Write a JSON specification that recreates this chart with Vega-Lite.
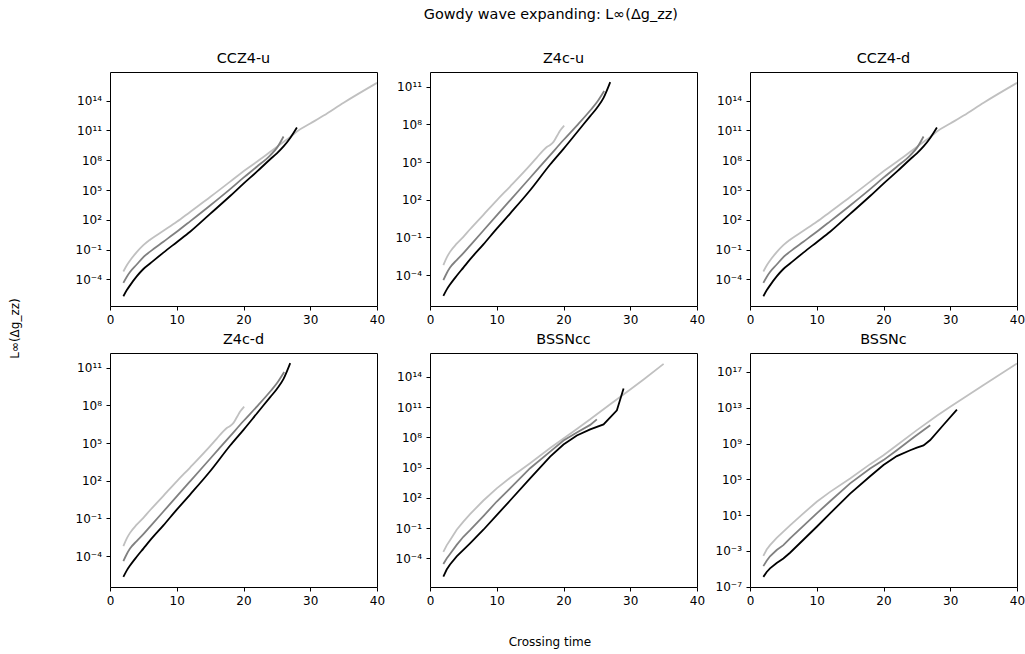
{
  "$schema": "https://vega.github.io/schema/vega-lite/v6.json",
  "padding": {"left": 8, "top": 6, "right": 5, "bottom": 8},
  "background": "white",
  "title": {"text": "Gowdy wave expanding: L∞(Δg_zz)", "anchor": "middle", "fontSize": 14.4, "fontWeight": "normal", "font": "DejaVu Sans", "color": "black", "offset": 28, "dx": 34},
  "datasets": {
    "ccz4u": [
      {"s": "low", "t": 2, "v": 6.31e-4}, {"s": "low", "t": 2.5, "v": 2.512e-3}, {"s": "low", "t": 3, "v": 7.943e-3}, {"s": "low", "t": 4, "v": 5.623e-2}, {"s": "low", "t": 5, "v": 0.2818}, {"s": "low", "t": 6, "v": 1}, {"s": "low", "t": 8, "v": 7.943}, {"s": "low", "t": 10, "v": 63.1}, {"s": "low", "t": 12, "v": 631}, {"s": "low", "t": 15, "v": 1.995e4}, {"s": "low", "t": 18, "v": 7.079e5}, {"s": "low", "t": 20, "v": 7.943e6}, {"s": "low", "t": 22, "v": 7.079e7}, {"s": "low", "t": 24, "v": 7.079e8}, {"s": "low", "t": 25, "v": 2.239e9}, {"s": "low", "t": 26, "v": 7.079e9}, {"s": "low", "t": 27, "v": 2.239e10}, {"s": "low", "t": 28, "v": 7.943e10}, {"s": "low", "t": 30, "v": 5.012e11}, {"s": "low", "t": 32, "v": 3.162e12}, {"s": "low", "t": 35, "v": 6.31e13}, {"s": "low", "t": 40, "v": 6.31e15},
      {"s": "mid", "t": 2, "v": 4.467e-5}, {"s": "mid", "t": 2.5, "v": 1.778e-4}, {"s": "mid", "t": 3, "v": 5.623e-4}, {"s": "mid", "t": 4, "v": 3.162e-3}, {"s": "mid", "t": 5, "v": 1.778e-2}, {"s": "mid", "t": 6, "v": 6.31e-2}, {"s": "mid", "t": 8, "v": 0.631}, {"s": "mid", "t": 10, "v": 6.31}, {"s": "mid", "t": 12, "v": 70.79}, {"s": "mid", "t": 15, "v": 2818}, {"s": "mid", "t": 18, "v": 1.259e5}, {"s": "mid", "t": 20, "v": 1.778e6}, {"s": "mid", "t": 22, "v": 2.239e7}, {"s": "mid", "t": 24, "v": 3.162e8}, {"s": "mid", "t": 25, "v": 1.778e9}, {"s": "mid", "t": 26, "v": 2.512e10},
      {"s": "high", "t": 2, "v": 1.995e-6}, {"s": "high", "t": 2.5, "v": 7.943e-6}, {"s": "high", "t": 3, "v": 2.512e-5}, {"s": "high", "t": 4, "v": 1.995e-4}, {"s": "high", "t": 5, "v": 1.122e-3}, {"s": "high", "t": 6, "v": 3.981e-3}, {"s": "high", "t": 8, "v": 5.012e-2}, {"s": "high", "t": 10, "v": 0.5623}, {"s": "high", "t": 12, "v": 6.31}, {"s": "high", "t": 15, "v": 398.1}, {"s": "high", "t": 18, "v": 2.512e4}, {"s": "high", "t": 20, "v": 4.467e5}, {"s": "high", "t": 22, "v": 7.079e6}, {"s": "high", "t": 24, "v": 1.259e8}, {"s": "high", "t": 25, "v": 5.012e8}, {"s": "high", "t": 26, "v": 2.512e9}, {"s": "high", "t": 27, "v": 1.778e10}, {"s": "high", "t": 28, "v": 1.995e11}
    ],
    "z4cu": [
      {"s": "low", "t": 2, "v": 6.31e-4}, {"s": "low", "t": 2.5, "v": 2.512e-3}, {"s": "low", "t": 3, "v": 7.079e-3}, {"s": "low", "t": 4, "v": 3.162e-2}, {"s": "low", "t": 5, "v": 0.1122}, {"s": "low", "t": 6, "v": 0.4467}, {"s": "low", "t": 8, "v": 6.31}, {"s": "low", "t": 10, "v": 89.13}, {"s": "low", "t": 12, "v": 1122}, {"s": "low", "t": 15, "v": 5.623e4}, {"s": "low", "t": 16, "v": 2.239e5}, {"s": "low", "t": 17, "v": 8.913e5}, {"s": "low", "t": 17.5, "v": 1.585e6}, {"s": "low", "t": 18, "v": 2.239e6}, {"s": "low", "t": 18.5, "v": 3.981e6}, {"s": "low", "t": 19, "v": 1.122e7}, {"s": "low", "t": 19.5, "v": 3.162e7}, {"s": "low", "t": 20.1, "v": 7.943e7},
      {"s": "mid", "t": 2, "v": 3.981e-5}, {"s": "mid", "t": 2.5, "v": 1.413e-4}, {"s": "mid", "t": 3, "v": 3.981e-4}, {"s": "mid", "t": 4, "v": 1.585e-3}, {"s": "mid", "t": 5, "v": 5.623e-3}, {"s": "mid", "t": 6, "v": 2.239e-2}, {"s": "mid", "t": 8, "v": 0.3548}, {"s": "mid", "t": 10, "v": 5.623}, {"s": "mid", "t": 12, "v": 89.13}, {"s": "mid", "t": 15, "v": 5623}, {"s": "mid", "t": 18, "v": 3.548e5}, {"s": "mid", "t": 20, "v": 5.623e6}, {"s": "mid", "t": 22, "v": 7.943e7}, {"s": "mid", "t": 24, "v": 1.259e9}, {"s": "mid", "t": 25, "v": 5.623e9}, {"s": "mid", "t": 26.1, "v": 4.467e10},
      {"s": "high", "t": 2, "v": 2.239e-6}, {"s": "high", "t": 2.5, "v": 7.079e-6}, {"s": "high", "t": 3, "v": 1.778e-5}, {"s": "high", "t": 4, "v": 8.913e-5}, {"s": "high", "t": 5, "v": 3.981e-4}, {"s": "high", "t": 6, "v": 1.778e-3}, {"s": "high", "t": 8, "v": 2.818e-2}, {"s": "high", "t": 10, "v": 0.5012}, {"s": "high", "t": 12, "v": 7.943}, {"s": "high", "t": 15, "v": 562.3}, {"s": "high", "t": 18, "v": 6.31e4}, {"s": "high", "t": 20, "v": 1.122e6}, {"s": "high", "t": 22, "v": 2.239e7}, {"s": "high", "t": 24, "v": 4.467e8}, {"s": "high", "t": 25, "v": 1.995e9}, {"s": "high", "t": 26, "v": 1.259e10}, {"s": "high", "t": 27, "v": 2.239e11}
    ],
    "ccz4d": [
      {"s": "low", "t": 2, "v": 6.31e-4}, {"s": "low", "t": 2.5, "v": 2.512e-3}, {"s": "low", "t": 3, "v": 7.943e-3}, {"s": "low", "t": 4, "v": 5.623e-2}, {"s": "low", "t": 5, "v": 0.2818}, {"s": "low", "t": 6, "v": 1}, {"s": "low", "t": 8, "v": 7.943}, {"s": "low", "t": 10, "v": 63.1}, {"s": "low", "t": 12, "v": 631}, {"s": "low", "t": 15, "v": 1.995e4}, {"s": "low", "t": 18, "v": 7.079e5}, {"s": "low", "t": 20, "v": 7.943e6}, {"s": "low", "t": 22, "v": 7.079e7}, {"s": "low", "t": 24, "v": 7.079e8}, {"s": "low", "t": 25, "v": 2.239e9}, {"s": "low", "t": 26, "v": 7.079e9}, {"s": "low", "t": 27, "v": 2.239e10}, {"s": "low", "t": 28, "v": 7.943e10}, {"s": "low", "t": 30, "v": 5.012e11}, {"s": "low", "t": 32, "v": 3.162e12}, {"s": "low", "t": 35, "v": 6.31e13}, {"s": "low", "t": 40, "v": 6.31e15},
      {"s": "mid", "t": 2, "v": 4.467e-5}, {"s": "mid", "t": 2.5, "v": 1.778e-4}, {"s": "mid", "t": 3, "v": 5.623e-4}, {"s": "mid", "t": 4, "v": 3.162e-3}, {"s": "mid", "t": 5, "v": 1.778e-2}, {"s": "mid", "t": 6, "v": 6.31e-2}, {"s": "mid", "t": 8, "v": 0.631}, {"s": "mid", "t": 10, "v": 6.31}, {"s": "mid", "t": 12, "v": 70.79}, {"s": "mid", "t": 15, "v": 2818}, {"s": "mid", "t": 18, "v": 1.259e5}, {"s": "mid", "t": 20, "v": 1.778e6}, {"s": "mid", "t": 22, "v": 2.239e7}, {"s": "mid", "t": 24, "v": 3.162e8}, {"s": "mid", "t": 25, "v": 1.778e9}, {"s": "mid", "t": 26, "v": 2.512e10},
      {"s": "high", "t": 2, "v": 1.995e-6}, {"s": "high", "t": 2.5, "v": 7.943e-6}, {"s": "high", "t": 3, "v": 2.512e-5}, {"s": "high", "t": 4, "v": 1.995e-4}, {"s": "high", "t": 5, "v": 1.122e-3}, {"s": "high", "t": 6, "v": 3.981e-3}, {"s": "high", "t": 8, "v": 5.012e-2}, {"s": "high", "t": 10, "v": 0.5623}, {"s": "high", "t": 12, "v": 6.31}, {"s": "high", "t": 15, "v": 398.1}, {"s": "high", "t": 18, "v": 2.512e4}, {"s": "high", "t": 20, "v": 4.467e5}, {"s": "high", "t": 22, "v": 7.079e6}, {"s": "high", "t": 24, "v": 1.259e8}, {"s": "high", "t": 25, "v": 5.012e8}, {"s": "high", "t": 26, "v": 2.512e9}, {"s": "high", "t": 27, "v": 1.778e10}, {"s": "high", "t": 28, "v": 1.995e11}
    ],
    "z4cd": [
      {"s": "low", "t": 2, "v": 6.31e-4}, {"s": "low", "t": 2.5, "v": 2.512e-3}, {"s": "low", "t": 3, "v": 7.079e-3}, {"s": "low", "t": 4, "v": 3.162e-2}, {"s": "low", "t": 5, "v": 0.1122}, {"s": "low", "t": 6, "v": 0.4467}, {"s": "low", "t": 8, "v": 6.31}, {"s": "low", "t": 10, "v": 89.13}, {"s": "low", "t": 12, "v": 1122}, {"s": "low", "t": 15, "v": 5.623e4}, {"s": "low", "t": 16, "v": 2.239e5}, {"s": "low", "t": 17, "v": 8.913e5}, {"s": "low", "t": 17.5, "v": 1.585e6}, {"s": "low", "t": 18, "v": 2.239e6}, {"s": "low", "t": 18.5, "v": 3.981e6}, {"s": "low", "t": 19, "v": 1.122e7}, {"s": "low", "t": 19.5, "v": 3.162e7}, {"s": "low", "t": 20.1, "v": 7.943e7},
      {"s": "mid", "t": 2, "v": 3.981e-5}, {"s": "mid", "t": 2.5, "v": 1.413e-4}, {"s": "mid", "t": 3, "v": 3.981e-4}, {"s": "mid", "t": 4, "v": 1.585e-3}, {"s": "mid", "t": 5, "v": 5.623e-3}, {"s": "mid", "t": 6, "v": 2.239e-2}, {"s": "mid", "t": 8, "v": 0.3548}, {"s": "mid", "t": 10, "v": 5.623}, {"s": "mid", "t": 12, "v": 89.13}, {"s": "mid", "t": 15, "v": 5623}, {"s": "mid", "t": 18, "v": 3.548e5}, {"s": "mid", "t": 20, "v": 5.623e6}, {"s": "mid", "t": 22, "v": 7.943e7}, {"s": "mid", "t": 24, "v": 1.259e9}, {"s": "mid", "t": 25, "v": 5.623e9}, {"s": "mid", "t": 26.1, "v": 4.467e10},
      {"s": "high", "t": 2, "v": 2.239e-6}, {"s": "high", "t": 2.5, "v": 7.079e-6}, {"s": "high", "t": 3, "v": 1.778e-5}, {"s": "high", "t": 4, "v": 8.913e-5}, {"s": "high", "t": 5, "v": 3.981e-4}, {"s": "high", "t": 6, "v": 1.778e-3}, {"s": "high", "t": 8, "v": 2.818e-2}, {"s": "high", "t": 10, "v": 0.5012}, {"s": "high", "t": 12, "v": 7.943}, {"s": "high", "t": 15, "v": 562.3}, {"s": "high", "t": 18, "v": 6.31e4}, {"s": "high", "t": 20, "v": 1.122e6}, {"s": "high", "t": 22, "v": 2.239e7}, {"s": "high", "t": 24, "v": 4.467e8}, {"s": "high", "t": 25, "v": 1.995e9}, {"s": "high", "t": 26, "v": 1.259e10}, {"s": "high", "t": 27, "v": 2.239e11}
    ],
    "bssncc": [
      {"s": "low", "t": 2, "v": 4.467e-4}, {"s": "low", "t": 2.5, "v": 1.995e-3}, {"s": "low", "t": 3, "v": 6.31e-3}, {"s": "low", "t": 4, "v": 7.079e-2}, {"s": "low", "t": 5, "v": 0.4467}, {"s": "low", "t": 6, "v": 2.512}, {"s": "low", "t": 8, "v": 56.23}, {"s": "low", "t": 10, "v": 891.3}, {"s": "low", "t": 12, "v": 1e4}, {"s": "low", "t": 15, "v": 2.818e5}, {"s": "low", "t": 18, "v": 8.913e6}, {"s": "low", "t": 20, "v": 7.943e7}, {"s": "low", "t": 22, "v": 7.079e8}, {"s": "low", "t": 24, "v": 6.31e9}, {"s": "low", "t": 25, "v": 1.995e10}, {"s": "low", "t": 27, "v": 1.995e11}, {"s": "low", "t": 30, "v": 5.623e12}, {"s": "low", "t": 32, "v": 5.623e13}, {"s": "low", "t": 35, "v": 1.995e15},
      {"s": "mid", "t": 2, "v": 2.818e-5}, {"s": "mid", "t": 2.5, "v": 1e-4}, {"s": "mid", "t": 3, "v": 2.818e-4}, {"s": "mid", "t": 4, "v": 2.239e-3}, {"s": "mid", "t": 5, "v": 1.413e-2}, {"s": "mid", "t": 6, "v": 6.31e-2}, {"s": "mid", "t": 8, "v": 1.585}, {"s": "mid", "t": 10, "v": 44.67}, {"s": "mid", "t": 12, "v": 891.3}, {"s": "mid", "t": 15, "v": 8.913e4}, {"s": "mid", "t": 18, "v": 3.981e6}, {"s": "mid", "t": 20, "v": 5.012e7}, {"s": "mid", "t": 22, "v": 3.162e8}, {"s": "mid", "t": 24, "v": 1.778e9}, {"s": "mid", "t": 25, "v": 6.31e9},
      {"s": "high", "t": 2, "v": 1.585e-6}, {"s": "high", "t": 2.5, "v": 7.943e-6}, {"s": "high", "t": 3, "v": 2.512e-5}, {"s": "high", "t": 4, "v": 1.585e-4}, {"s": "high", "t": 5, "v": 7.079e-4}, {"s": "high", "t": 6, "v": 3.162e-3}, {"s": "high", "t": 8, "v": 7.079e-2}, {"s": "high", "t": 10, "v": 1.995}, {"s": "high", "t": 12, "v": 56.23}, {"s": "high", "t": 15, "v": 8913}, {"s": "high", "t": 18, "v": 1.259e6}, {"s": "high", "t": 20, "v": 1.995e7}, {"s": "high", "t": 22, "v": 1.585e8}, {"s": "high", "t": 24, "v": 6.31e8}, {"s": "high", "t": 26, "v": 1.995e9}, {"s": "high", "t": 28, "v": 5.012e10}, {"s": "high", "t": 29, "v": 7.079e12}
    ],
    "bssnc": [
      {"s": "low", "t": 2, "v": 2.818e-4}, {"s": "low", "t": 2.5, "v": 1.413e-3}, {"s": "low", "t": 3, "v": 4.467e-3}, {"s": "low", "t": 4, "v": 2.818e-2}, {"s": "low", "t": 5, "v": 0.1413}, {"s": "low", "t": 6, "v": 0.7079}, {"s": "low", "t": 8, "v": 15.85}, {"s": "low", "t": 10, "v": 316.2}, {"s": "low", "t": 12, "v": 3981}, {"s": "low", "t": 15, "v": 1.259e5}, {"s": "low", "t": 18, "v": 5.012e6}, {"s": "low", "t": 20, "v": 5.012e7}, {"s": "low", "t": 22, "v": 6.31e8}, {"s": "low", "t": 25, "v": 3.162e10}, {"s": "low", "t": 28, "v": 1.259e12}, {"s": "low", "t": 30, "v": 1.259e13}, {"s": "low", "t": 35, "v": 3.548e15}, {"s": "low", "t": 40, "v": 8.913e17},
      {"s": "mid", "t": 2, "v": 1.995e-5}, {"s": "mid", "t": 2.5, "v": 7.943e-5}, {"s": "mid", "t": 3, "v": 2.512e-4}, {"s": "mid", "t": 4, "v": 1.259e-3}, {"s": "mid", "t": 5, "v": 4.467e-3}, {"s": "mid", "t": 6, "v": 2.512e-2}, {"s": "mid", "t": 8, "v": 0.631}, {"s": "mid", "t": 10, "v": 15.85}, {"s": "mid", "t": 12, "v": 354.8}, {"s": "mid", "t": 15, "v": 3.548e4}, {"s": "mid", "t": 18, "v": 1.585e6}, {"s": "mid", "t": 20, "v": 1.413e7}, {"s": "mid", "t": 22, "v": 1.778e8}, {"s": "mid", "t": 24, "v": 2.512e9}, {"s": "mid", "t": 25, "v": 8.913e9}, {"s": "mid", "t": 27, "v": 1.122e11},
      {"s": "high", "t": 2, "v": 1.259e-6}, {"s": "high", "t": 2.5, "v": 4.467e-6}, {"s": "high", "t": 3, "v": 1.122e-5}, {"s": "high", "t": 4, "v": 4.467e-5}, {"s": "high", "t": 5, "v": 1.413e-4}, {"s": "high", "t": 6, "v": 6.31e-4}, {"s": "high", "t": 8, "v": 1.778e-2}, {"s": "high", "t": 10, "v": 0.5012}, {"s": "high", "t": 12, "v": 15.85}, {"s": "high", "t": 15, "v": 2512}, {"s": "high", "t": 18, "v": 2.239e5}, {"s": "high", "t": 20, "v": 3.981e6}, {"s": "high", "t": 22, "v": 3.981e7}, {"s": "high", "t": 24, "v": 1.778e8}, {"s": "high", "t": 25, "v": 3.548e8}, {"s": "high", "t": 26, "v": 6.31e8}, {"s": "high", "t": 27, "v": 2.512e9}, {"s": "high", "t": 29, "v": 1.259e11}, {"s": "high", "t": 31, "v": 6.31e12}
    ]
  },
  "vconcat": [
    {
      "title": {"text": "Crossing time", "orient": "bottom", "anchor": "middle", "fontSize": 12, "fontWeight": "normal", "offset": 30, "dx": 33},
      "vconcat": [
        {
          "title": {"text": "L∞(Δg_zz)", "orient": "left", "anchor": "middle", "fontSize": 12, "fontWeight": "normal", "offset": 53},
          "columns": 3,
          "bounds": "flush",
          "spacing": {"row": 47, "column": 53},
          "concat": [
            {
              "title": "CCZ4-u", "width": 267, "height": 234,
              "data": {"name": "ccz4u"},
              "mark": {"type": "line", "strokeWidth": 1.8, "clip": true, "interpolate": "monotone"},
              "encoding": {
                "x": {"field": "t", "type": "quantitative", "scale": {"domain": [0, 40], "nice": false}, "axis": {"values": [0, 10, 20, 30, 40], "title": null}},
                "y": {"field": "v", "type": "quantitative", "scale": {"type": "log", "domain": [2.1e-7, 7.8e16], "nice": false}, "axis": {"values": [1e-4, 1e-1, 1e2, 1e5, 1e8, 1e11, 1e14], "title": null, "labelExpr": "'10' + replace(replace(replace(replace(replace(replace(replace(replace(replace(replace(replace(round(log(datum.value)/LN10) + '', regexp('-','g'), '⁻'), regexp('0','g'), '⁰'), regexp('1','g'), '¹'), regexp('2','g'), '²'), regexp('3','g'), '³'), regexp('4','g'), '⁴'), regexp('5','g'), '⁵'), regexp('6','g'), '⁶'), regexp('7','g'), '⁷'), regexp('8','g'), '⁸'), regexp('9','g'), '⁹')"}},
                "color": {"field": "s", "type": "nominal", "scale": {"domain": ["low", "mid", "high"], "range": ["#c0c0c0", "#808080", "#000000"]}, "legend": null}
              }
            },
            {
              "title": "Z4c-u", "width": 267, "height": 234,
              "data": {"name": "z4cu"},
              "mark": {"type": "line", "strokeWidth": 1.8, "clip": true, "interpolate": "monotone"},
              "encoding": {
                "x": {"field": "t", "type": "quantitative", "scale": {"domain": [0, 40], "nice": false}, "axis": {"values": [0, 10, 20, 30, 40], "title": null}},
                "y": {"field": "v", "type": "quantitative", "scale": {"type": "log", "domain": [3.5e-7, 1.45e12], "nice": false}, "axis": {"values": [1e-4, 1e-1, 1e2, 1e5, 1e8, 1e11], "title": null, "labelExpr": "'10' + replace(replace(replace(replace(replace(replace(replace(replace(replace(replace(replace(round(log(datum.value)/LN10) + '', regexp('-','g'), '⁻'), regexp('0','g'), '⁰'), regexp('1','g'), '¹'), regexp('2','g'), '²'), regexp('3','g'), '³'), regexp('4','g'), '⁴'), regexp('5','g'), '⁵'), regexp('6','g'), '⁶'), regexp('7','g'), '⁷'), regexp('8','g'), '⁸'), regexp('9','g'), '⁹')"}},
                "color": {"field": "s", "type": "nominal", "scale": {"domain": ["low", "mid", "high"], "range": ["#c0c0c0", "#808080", "#000000"]}, "legend": null}
              }
            },
            {
              "title": "CCZ4-d", "width": 267, "height": 234,
              "data": {"name": "ccz4d"},
              "mark": {"type": "line", "strokeWidth": 1.8, "clip": true, "interpolate": "monotone"},
              "encoding": {
                "x": {"field": "t", "type": "quantitative", "scale": {"domain": [0, 40], "nice": false}, "axis": {"values": [0, 10, 20, 30, 40], "title": null}},
                "y": {"field": "v", "type": "quantitative", "scale": {"type": "log", "domain": [2.1e-7, 7.8e16], "nice": false}, "axis": {"values": [1e-4, 1e-1, 1e2, 1e5, 1e8, 1e11, 1e14], "title": null, "labelExpr": "'10' + replace(replace(replace(replace(replace(replace(replace(replace(replace(replace(replace(round(log(datum.value)/LN10) + '', regexp('-','g'), '⁻'), regexp('0','g'), '⁰'), regexp('1','g'), '¹'), regexp('2','g'), '²'), regexp('3','g'), '³'), regexp('4','g'), '⁴'), regexp('5','g'), '⁵'), regexp('6','g'), '⁶'), regexp('7','g'), '⁷'), regexp('8','g'), '⁸'), regexp('9','g'), '⁹')"}},
                "color": {"field": "s", "type": "nominal", "scale": {"domain": ["low", "mid", "high"], "range": ["#c0c0c0", "#808080", "#000000"]}, "legend": null}
              }
            },
            {
              "title": "Z4c-d", "width": 267, "height": 234,
              "data": {"name": "z4cd"},
              "mark": {"type": "line", "strokeWidth": 1.8, "clip": true, "interpolate": "monotone"},
              "encoding": {
                "x": {"field": "t", "type": "quantitative", "scale": {"domain": [0, 40], "nice": false}, "axis": {"values": [0, 10, 20, 30, 40], "title": null}},
                "y": {"field": "v", "type": "quantitative", "scale": {"type": "log", "domain": [3.5e-7, 1.45e12], "nice": false}, "axis": {"values": [1e-4, 1e-1, 1e2, 1e5, 1e8, 1e11], "title": null, "labelExpr": "'10' + replace(replace(replace(replace(replace(replace(replace(replace(replace(replace(replace(round(log(datum.value)/LN10) + '', regexp('-','g'), '⁻'), regexp('0','g'), '⁰'), regexp('1','g'), '¹'), regexp('2','g'), '²'), regexp('3','g'), '³'), regexp('4','g'), '⁴'), regexp('5','g'), '⁵'), regexp('6','g'), '⁶'), regexp('7','g'), '⁷'), regexp('8','g'), '⁸'), regexp('9','g'), '⁹')"}},
                "color": {"field": "s", "type": "nominal", "scale": {"domain": ["low", "mid", "high"], "range": ["#c0c0c0", "#808080", "#000000"]}, "legend": null}
              }
            },
            {
              "title": "BSSNcc", "width": 267, "height": 234,
              "data": {"name": "bssncc"},
              "mark": {"type": "line", "strokeWidth": 1.8, "clip": true},
              "encoding": {
                "x": {"field": "t", "type": "quantitative", "scale": {"domain": [0, 40], "nice": false}, "axis": {"values": [0, 10, 20, 30, 40], "title": null}},
                "y": {"field": "v", "type": "quantitative", "scale": {"type": "log", "domain": [1.48e-7, 2.4e16], "nice": false}, "axis": {"values": [1e-4, 1e-1, 1e2, 1e5, 1e8, 1e11, 1e14], "title": null, "labelExpr": "'10' + replace(replace(replace(replace(replace(replace(replace(replace(replace(replace(replace(round(log(datum.value)/LN10) + '', regexp('-','g'), '⁻'), regexp('0','g'), '⁰'), regexp('1','g'), '¹'), regexp('2','g'), '²'), regexp('3','g'), '³'), regexp('4','g'), '⁴'), regexp('5','g'), '⁵'), regexp('6','g'), '⁶'), regexp('7','g'), '⁷'), regexp('8','g'), '⁸'), regexp('9','g'), '⁹')"}},
                "color": {"field": "s", "type": "nominal", "scale": {"domain": ["low", "mid", "high"], "range": ["#c0c0c0", "#808080", "#000000"]}, "legend": null}
              }
            },
            {
              "title": "BSSNc", "width": 267, "height": 234,
              "data": {"name": "bssnc"},
              "mark": {"type": "line", "strokeWidth": 1.8, "clip": true},
              "encoding": {
                "x": {"field": "t", "type": "quantitative", "scale": {"domain": [0, 40], "nice": false}, "axis": {"values": [0, 10, 20, 30, 40], "title": null}},
                "y": {"field": "v", "type": "quantitative", "scale": {"type": "log", "domain": [9.3e-8, 1.32e19], "nice": false}, "axis": {"values": [1e-7, 1e-3, 1e1, 1e5, 1e9, 1e13, 1e17], "title": null, "labelExpr": "'10' + replace(replace(replace(replace(replace(replace(replace(replace(replace(replace(replace(round(log(datum.value)/LN10) + '', regexp('-','g'), '⁻'), regexp('0','g'), '⁰'), regexp('1','g'), '¹'), regexp('2','g'), '²'), regexp('3','g'), '³'), regexp('4','g'), '⁴'), regexp('5','g'), '⁵'), regexp('6','g'), '⁶'), regexp('7','g'), '⁷'), regexp('8','g'), '⁸'), regexp('9','g'), '⁹')"}},
                "color": {"field": "s", "type": "nominal", "scale": {"domain": ["low", "mid", "high"], "range": ["#c0c0c0", "#808080", "#000000"]}, "legend": null}
              }
            }
          ]
        }
      ]
    }
  ],
  "config": {
    "font": "DejaVu Sans",
    "view": {"stroke": "#000000", "strokeWidth": 1},
    "axis": {"domain": false, "grid": false, "ticks": true, "tickColor": "#000000", "tickSize": 4, "tickWidth": 1, "labelColor": "#000000", "labelFontSize": 12, "labelFont": "DejaVu Sans", "labelPadding": 4.5, "labelFlush": false, "labelOverlap": false},
    "title": {"fontSize": 14.4, "fontWeight": "normal", "color": "#000000", "font": "DejaVu Sans", "offset": 6}
  }
}
